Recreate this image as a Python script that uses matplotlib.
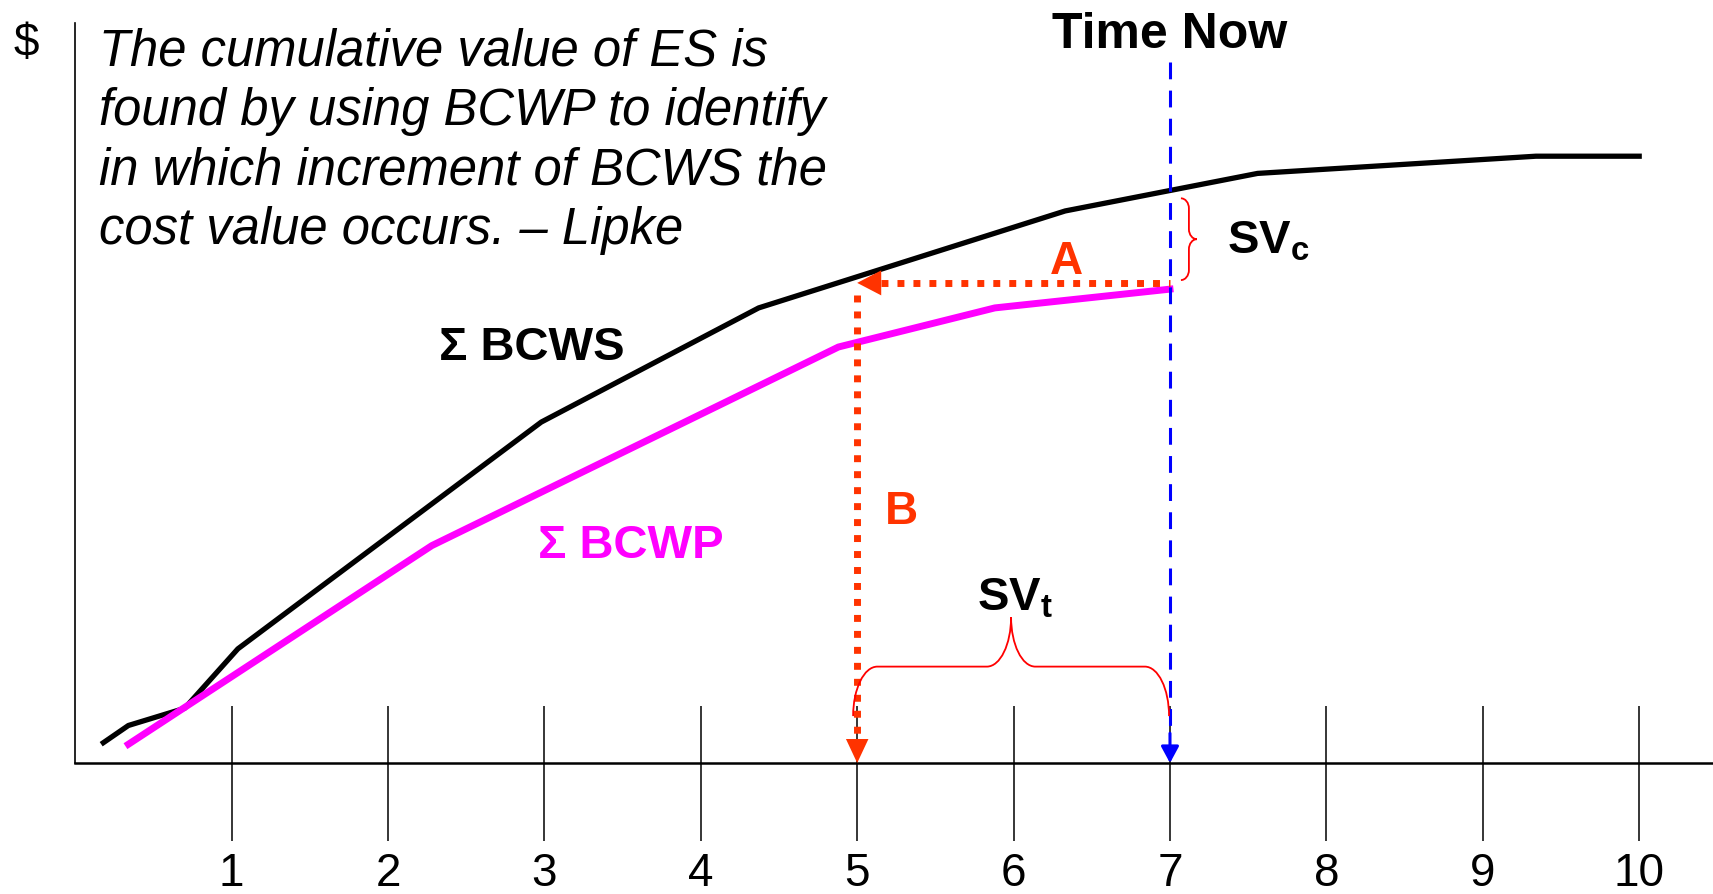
import matplotlib.pyplot as plt
import numpy as np
from matplotlib.path import Path
from matplotlib.patches import PathPatch

plt.rcParams['font.family'] = ['Liberation Sans', 'DejaVu Sans']
plt.rcParams['mathtext.fontset'] = 'custom'
plt.rcParams['mathtext.rm'] = 'Liberation Sans'
plt.rcParams['mathtext.bf'] = 'Liberation Sans:bold'

# time periods on the x axis
periods = [1, 2, 3, 4, 5, 6, 7, 8, 9, 10]

# cumulative planned value (BCWS)
bcws_x = [0.18, 0.34, 0.70, 1.04, 2.98, 4.37, 6.33, 7.56, 9.34, 10.0]
bcws_y = [0.13, 0.24, 0.35, 0.73, 2.18, 2.91, 3.53, 3.77, 3.88, 3.88]

# cumulative earned value (BCWP) up to time now
bcwp_x = [0.34, 2.28, 4.88, 5.88, 7.0]
bcwp_y = [0.12, 1.39, 2.66, 2.91, 3.03]

time_now = 7
es = 5            # earned schedule
ev_level = 3.07   # level of line A

note = ["The cumulative value of ES is",
        "found by using BCWP to identify",
        "in which increment of BCWS the",
        "cost value occurs. \u2013 Lipke"]

red = '#FF3300'


def brace(x0, y0, length, depth, r, vertical=False):
    # curly brace made of bezier pieces, bulging to +y (or +x if vertical)
    h = depth / 2
    k = 0.552
    L = length
    pts = [(0, 0),
           (0, k * h), (r - k * r, h), (r, h),
           (L / 2 - r, h),
           (L / 2 - r + k * r, h), (L / 2, 2 * h - k * h), (L / 2, 2 * h),
           (L / 2, 2 * h - k * h), (L / 2 + r - k * r, h), (L / 2 + r, h),
           (L - r, h),
           (L - r + k * r, h), (L, k * h), (L, 0)]
    codes = ([Path.MOVETO] + [Path.CURVE4] * 3 + [Path.LINETO] +
             [Path.CURVE4] * 6 + [Path.LINETO] + [Path.CURVE4] * 3)
    if vertical:
        verts = [(x0 + v, y0 - u) for u, v in pts]
    else:
        verts = [(x0 + u, y0 + v) for u, v in pts]
    return PathPatch(Path(verts, codes), fill=False, edgecolor='#FF0000', lw=1.3, zorder=6)


fig = plt.figure(figsize=(17.13, 8.94), dpi=100)
ax = fig.add_axes([0.0439, 0.1465, 0.9561, 0.828])
ax.set_xlim(0, 10.472)
ax.set_ylim(0, 4.733)

ax.spines['top'].set_visible(False)
ax.spines['right'].set_visible(False)
ax.spines['left'].set_linewidth(1.2)
ax.spines['bottom'].set_linewidth(1.8)

ax.set_xticks(periods)
ax.set_xticklabels([str(p) for p in periods], fontsize=33)
ax.tick_params(axis='x', length=0, pad=64)
ax.set_yticks([])
ax.vlines(periods, -0.5, 0.364, color='black', lw=1.1, clip_on=False, zorder=1)

ax.plot(bcws_x, bcws_y, color='black', lw=3.8, zorder=3)
ax.plot(bcwp_x, bcwp_y, color='#FF00FF', lw=5, zorder=4)

# time now line
ax.plot([time_now, time_now], [4.482, 0.19], color='#0000FF', lw=2.2,
        ls=(0, (5.5, 3.7)), zorder=5)
ax.annotate('', xy=(time_now, 0), xytext=(time_now, 0.19),
            arrowprops=dict(arrowstyle='-|>,head_length=1.0,head_width=0.54',
                            mutation_scale=10, color='#0000FF', lw=2.2,
                            shrinkA=0, shrinkB=0), zorder=5)

# A: across to BCWS, B: down to the time axis
ax.plot([es + 0.15, time_now], [ev_level, ev_level], color=red, lw=5,
        ls=(0, (1, 1.3)), dash_capstyle='butt', zorder=6)
ax.annotate('', xy=(es, ev_level), xytext=(es + 0.3, ev_level),
            arrowprops=dict(arrowstyle='-|>,head_length=1.73,head_width=0.9',
                            mutation_scale=10, color=red, lw=0,
                            shrinkA=0, shrinkB=0), zorder=6)
ax.plot([es, es], [ev_level - 0.08, 0.155], color=red, lw=5,
        ls=(0, (1, 1.3)), dash_capstyle='butt', zorder=6)
ax.annotate('', xy=(es, 0), xytext=(es, 0.3),
            arrowprops=dict(arrowstyle='-|>,head_length=1.73,head_width=0.81',
                            mutation_scale=10, color=red, lw=0,
                            shrinkA=0, shrinkB=0), zorder=6)

# braces
bcws_now = np.interp(time_now, bcws_x, bcws_y)
ax.add_patch(brace(es - 0.026, 0.30, time_now - es + 0.02, 0.633, 0.155))
top = bcws_now - 0.05
bottom = ev_level + 0.018
ax.add_patch(brace(time_now + 0.07, top, top - bottom, 0.102, 0.064, vertical=True))

# text
for i, line in enumerate(note):
    ax.text(0.155, 4.46 - i * 0.38, line, fontsize=36.5, fontstyle='italic',
            va='baseline', ha='left')
ax.text(-0.315, 4.52, '$', fontsize=33, ha='center', va='baseline', clip_on=False)
ax.text(time_now, 4.572, 'Time Now', fontsize=36, fontweight='bold',
        ha='center', va='baseline')
ax.text(2.918, 2.577, '\u03a3 BCWS', fontsize=34, fontweight='bold',
        ha='center', va='baseline')
ax.text(3.55, 1.311, '\u03a3 BCWP', fontsize=34, fontweight='bold',
        color='#FF00FF', ha='center', va='baseline')
ax.text(6.335, 3.13, 'A', fontsize=33, fontweight='bold', color=red,
        ha='center', va='baseline')
ax.text(5.28, 1.528, 'B', fontsize=33, fontweight='bold', color=red,
        ha='center', va='baseline')
ax.text(7.364, 3.261, r'$\mathbf{SV}_\mathbf{c}$', fontsize=34, ha='left', va='baseline')
ax.text(5.764, 0.978, r'$\mathbf{SV}_\mathbf{t}$', fontsize=34, ha='left', va='baseline')

fig.savefig('out.png', dpi=100)
